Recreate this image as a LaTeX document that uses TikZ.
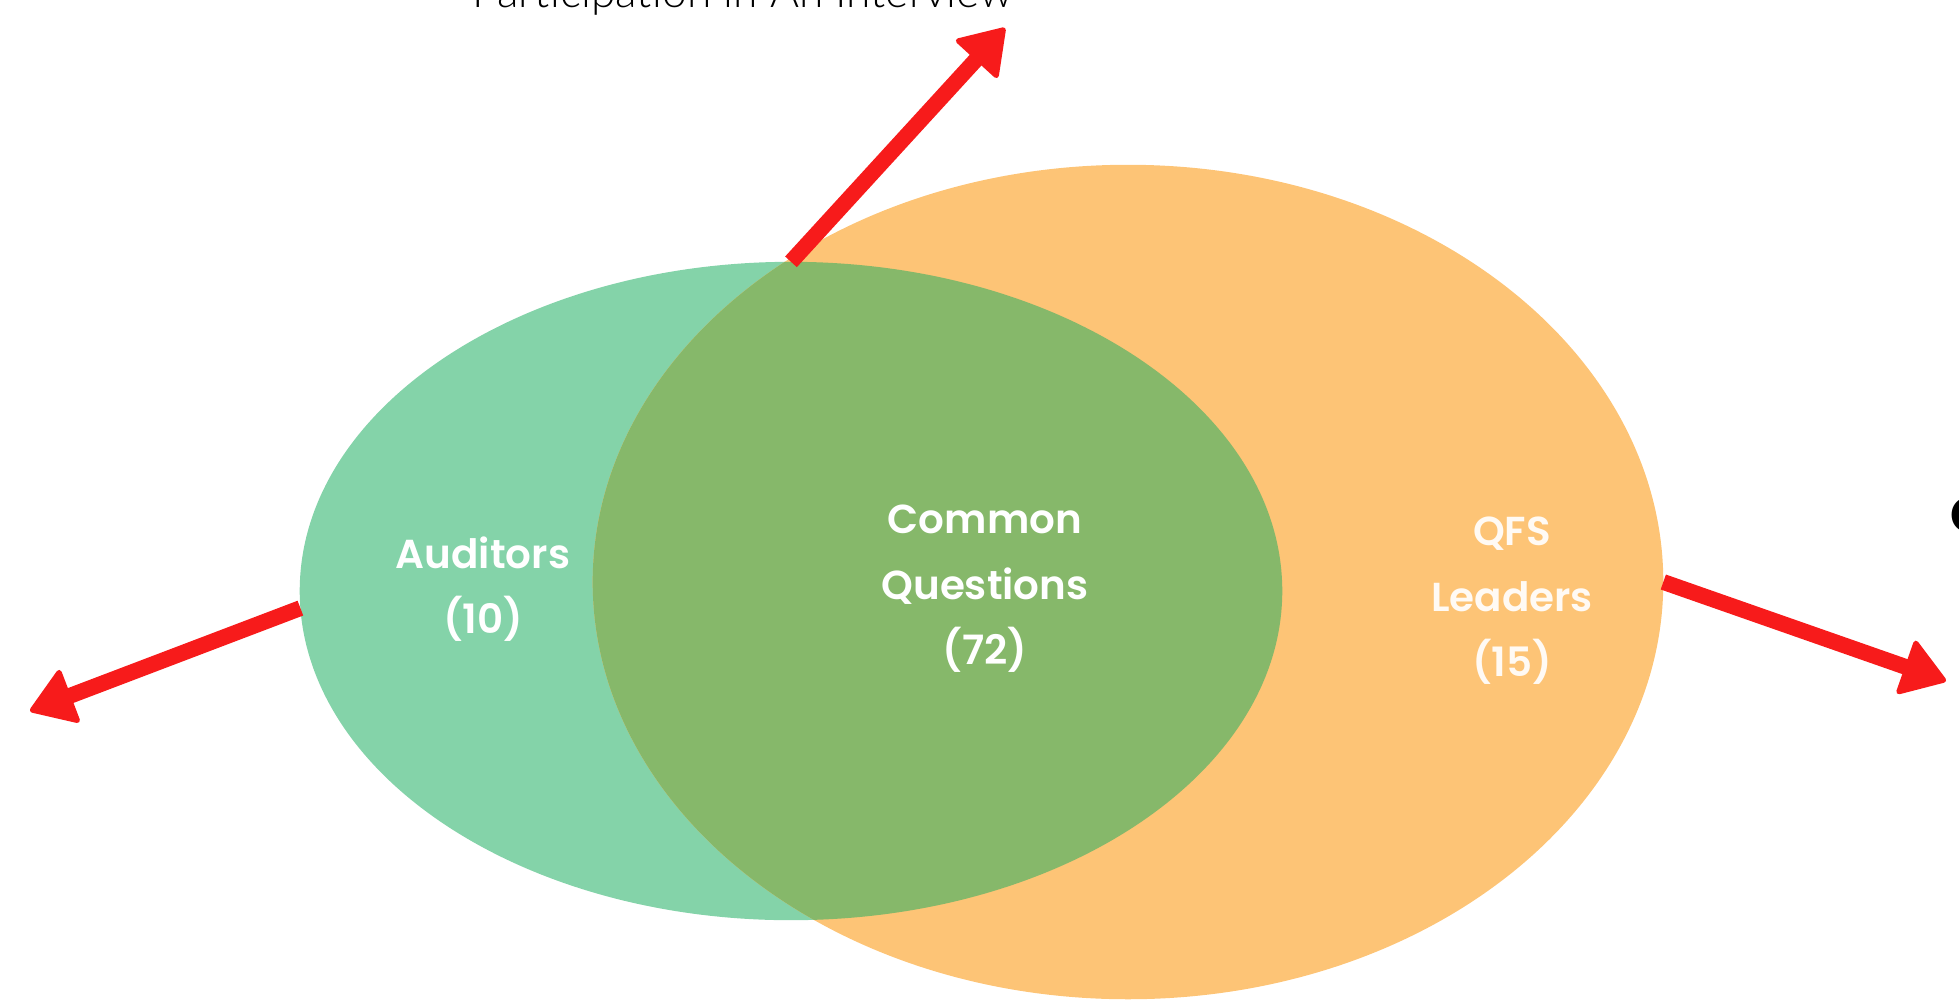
\documentclass[tikz,border=0pt]{standalone}
\usepackage{fontspec}
\setmainfont{Poppins}
\newfontfamily\vennfont{Poppins SemiBold}
\newfontfamily\thinfont{Lato Light}
\usetikzlibrary{positioning, arrows.meta, shapes.geometric}

\definecolor{auditgreen}{HTML}{84D3A9}
\definecolor{leadorange}{HTML}{FDC476}
\definecolor{commongreen}{HTML}{86B86A}
\definecolor{arrowred}{HTML}{F71B1B}

\begin{document}
\begin{tikzpicture}[x=0.01cm, y=-0.01cm, every node/.style={inner sep=0pt, outer sep=0pt}, set/.style={ellipse, draw=none}, setname/.style={white, align=center, font=\vennfont\fontsize{11.5}{18.6}\selectfont}, pointer/.style={->, draw=arrowred, line width=4.5pt}, >={Triangle[round, line width=1.5pt, length=13pt, width=17pt]}]
    \useasboundingbox (0,0) rectangle (1959,1005);
    \clip (0,0) rectangle (1959,1005);

    \node[set, fill=auditgreen, minimum width=9.82cm, minimum height=6.58cm] (auditors) at (791,591) {};
    \node[set, fill=leadorange, minimum width=10.70cm, minimum height=8.34cm, path picture={\fill[commongreen] (auditors.center) ellipse [x radius=4.91cm, y radius=3.29cm];}] (leaders) at (1128,582) {};

    \node[setname] (auditorsText) at (483,589) {Auditors\\(10)};
    \node[setname] (commonText) at (985,589) {Common\\Questions\\(72)};
    \node[setname, white!92!leadorange] (leadersText) at (1512,601) {QFS\\Leaders\\(15)};

    \node[anchor=base, font=\thinfont\fontsize{12.6}{14}\selectfont] (interview) at (743,7) {Participation in An Interview};
    \node[anchor=base west, font=\bfseries\fontsize{14}{16}\selectfont] (rightText) at (1950,532) {C};

    \coordinate (interviewTip) at (1005,28);
    \coordinate (auditorsTip) at (30,711);
    \coordinate (leadersTip) at (1946,681);

    \draw[pointer] (auditors.north) -- (interviewTip);
    \draw[pointer] (auditors.182) -- (auditorsTip);
    \draw[pointer] (leaders.east) -- (leadersTip);
\end{tikzpicture}
\end{document}
